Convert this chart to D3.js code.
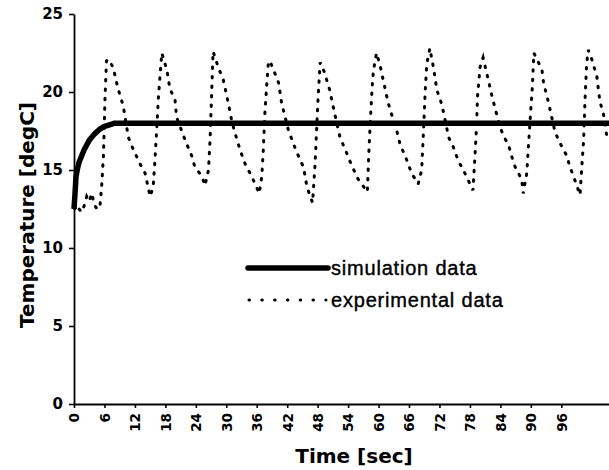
<!DOCTYPE html>
<html><head><meta charset="utf-8">
<script src="https://cdn.jsdelivr.net/npm/d3@7"></script>
<style>
body{margin:0;background:#fff;}
svg{display:block;}
</style>
</head><body>
<svg id="chart" width="609" height="470"></svg>
<script>
const xTicks = [0,6,12,18,24,30,36,42,48,54,60,66,72,78,84,90,96];
const yTicks = [0,5,10,15,20,25];

const simTime = [0,0.2,0.4,0.7,1.0,1.5,2.0,2.5,3.0,4.0,5.0,6.0,7.0,8.0,10,105.4];
const simTemp = [12.5,13.5,14.6,15.1,15.5,15.9,16.3,16.6,16.9,17.3,17.6,17.8,17.9,18.0,18.0,18.0];

const expTime = [0,0.5,1.0,1.5,2.0,2.5,3.0,3.5,4.0,4.5,5.1,5.5,5.8,6.1,6.4,6.7,
 7.7,8.6,9.7,10.7,11.7,13.3,14.0,14.6,15.0,15.6,15.9,16.3,16.6,16.9,17.3,
 18.3,18.9,19.9,20.2,21.9,23.2,23.8,25.2,25.8,26.5,26.8,27.1,27.4,
 28.4,29.4,30.4,31.1,31.7,32.7,33.7,35.0,36.5,37.0,37.3,37.6,38.0,38.3,
 38.6,40.3,40.9,42.2,43.2,44.2,45.2,45.9,47.0,47.5,47.8,48.1,48.5,
 49.3,50.4,51.1,52.4,53.7,54.7,56.0,57.8,58.0,58.2,58.5,58.8,59.0,59.6,
 60.3,60.9,61.9,62.9,63.6,64.2,65.6,66.5,67.8,68.5,68.8,69.2,69.5,70.1,
 70.8,71.5,72.1,72.8,73.8,74.7,75.7,77.0,78.6,79.0,79.3,79.5,80.0,80.6,
 81.6,82.3,83.0,83.9,84.6,85.6,86.2,86.9,88.2,88.5,89.2,89.7,90.0,90.3,90.6,
 91.5,92.2,92.5,93.5,94.1,94.8,96.1,97.1,97.7,98.4,99.7,100.0,100.4,100.7,101.0,101.3,
 102.0,103.0,103.6,104.3,105.0,105.4];
const expTemp = [12.6,12.3,12.5,12.3,12.7,13.3,13.0,13.5,12.8,12.5,12.6,14.2,15.9,19.5,22.0,22.1,
 21.6,20.3,19.1,17.1,16.3,15.2,14.8,13.9,13.3,13.9,15.4,17.6,19.5,20.8,22.5,
 21.4,20.2,19.5,18.4,16.9,15.9,15.2,14.6,14.0,15.0,16.9,19.7,22.6,
 21.6,20.8,19.3,18.1,17.4,16.3,15.4,14.6,13.5,14.6,16.3,18.6,20.6,21.9,
 22.0,20.6,19.3,17.6,16.7,15.9,15.2,13.9,12.9,15.4,17.6,19.7,21.9,
 21.3,20.1,19.0,17.1,16.1,15.3,14.4,13.6,15.4,16.9,18.9,20.6,21.4,22.5,
 21.7,20.8,19.3,18.2,17.5,16.7,15.6,14.8,14.1,15.0,17.1,20.1,21.8,22.8,
 21.6,20.1,19.6,18.7,17.1,16.5,15.6,14.8,13.7,15.9,17.8,19.7,21.6,22.2,
 20.8,19.8,18.9,17.8,17.2,16.6,15.9,15.2,14.4,13.5,14.8,17.4,18.9,20.3,22.5,
 21.9,21.4,20.6,19.3,18.4,17.4,16.5,15.9,15.2,14.6,13.4,15.0,16.9,19.7,21.8,22.7,
 22.1,21.0,19.4,18.6,17.1,16.8];

const seriesNames = ["simulation data","experimental data"];

const svg = d3.select("#chart");
const mLeft = 74, mRight = 609, mTop = 14, mBottom = 404;
const x = d3.scaleLinear().domain([0,105.4]).range([mLeft,mRight]);
const y = d3.scaleLinear().domain([0,25]).range([mBottom,mTop]);

const boldFont = "'DejaVu Sans', sans-serif";

// y axis
const ya = svg.append("g").attr("transform",`translate(${mLeft},0)`)
  .call(d3.axisLeft(y).tickValues(yTicks).tickSize(5).tickPadding(6).tickSizeOuter(0));
ya.select(".domain").attr("stroke","#000").attr("stroke-width",1.8);
ya.selectAll(".tick line").attr("stroke","#000").attr("stroke-width",1.6);
ya.selectAll("text").attr("font-family",boldFont).attr("font-weight","bold").attr("font-size",15).attr("fill","#000");

// x axis
const xa = svg.append("g").attr("transform",`translate(0,${mBottom})`)
  .call(d3.axisBottom(x).tickValues(xTicks).tickSize(4).tickSizeOuter(0));
xa.select(".domain").attr("stroke","#000").attr("stroke-width",1.8);
xa.selectAll(".tick line").attr("stroke","#000").attr("stroke-width",1.6);
xa.selectAll("text")
  .attr("font-family",boldFont).attr("font-weight","bold").attr("font-size",13.5).attr("fill","#000")
  .attr("transform","rotate(-90)").attr("text-anchor","end")
  .attr("x",-9).attr("y",0).attr("dy","0.36em");

// lines
const lineSim = d3.line().x((d,i)=>x(simTime[i])).y(d=>y(d));
const lineExp = d3.line().x((d,i)=>x(expTime[i])).y(d=>y(d));

svg.append("path").attr("d",lineExp(expTemp))
  .attr("fill","none").attr("stroke","#000").attr("stroke-width",3)
  .attr("stroke-dasharray","1.5,8").attr("stroke-linecap","round");
svg.append("path").attr("d",lineSim(simTemp))
  .attr("fill","none").attr("stroke","#000").attr("stroke-width",5.5)
  .attr("stroke-linejoin","round");

// axis titles
svg.append("text").attr("x",354).attr("y",463).attr("text-anchor","middle")
  .attr("font-family",boldFont).attr("font-weight","bold").attr("font-size",20)
  .text("Time [sec]");
svg.append("text").attr("transform","translate(34,215) rotate(-90)").attr("text-anchor","middle")
  .attr("font-family",boldFont).attr("font-weight","bold").attr("font-size",20)
  .text("Temperature [degC]");

// legend
const lg = svg.append("g");
lg.append("line").attr("x1",248).attr("x2",328).attr("y1",268).attr("y2",268)
  .attr("stroke","#000").attr("stroke-width",5.5).attr("stroke-linecap","round");
lg.append("line").attr("x1",249).attr("x2",326).attr("y1",300).attr("y2",300)
  .attr("stroke","#000").attr("stroke-width",3).attr("stroke-dasharray","0.5,12.3")
  .attr("stroke-linecap","round");
lg.append("text").attr("x",331).attr("y",275).attr("font-family","'Liberation Sans', Arial, sans-serif")
  .attr("font-size",20).attr("letter-spacing",0.8).attr("stroke","#000").attr("stroke-width",0.4)
  .text(seriesNames[0]);
lg.append("text").attr("x",331).attr("y",307).attr("font-family","'Liberation Sans', Arial, sans-serif")
  .attr("font-size",20).attr("letter-spacing",0.8).attr("stroke","#000").attr("stroke-width",0.4)
  .text(seriesNames[1]);
</script>
</body></html>
